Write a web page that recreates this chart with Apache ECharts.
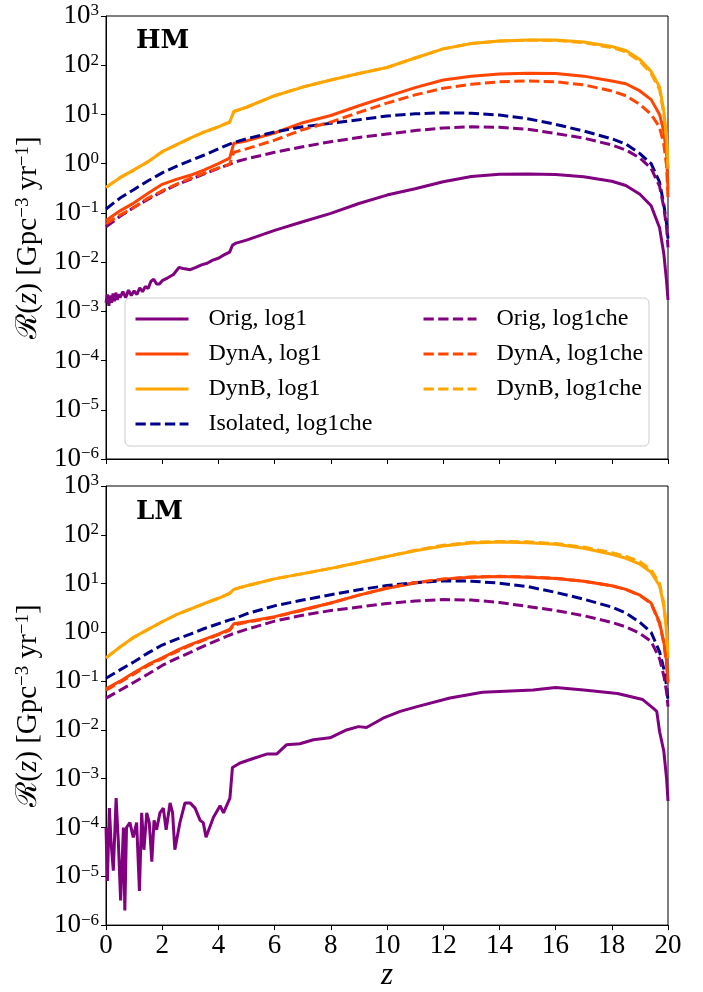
<!DOCTYPE html>
<html><head><meta charset="utf-8">
<script src="https://cdn.jsdelivr.net/npm/echarts@6/dist/echarts.min.js"></script>
<style>html,body{margin:0;padding:0;background:#fff}#c{width:703px;height:992px}</style>
</head><body><div id="c"></div><script>
// ---------- data ----------
const zGrid = [0,0.5,1,1.5,2,2.5,3,3.5,4,4.4,4.55,5,6,7,8,9,10,11,12,13,14,15,16,17,18,18.5,19,19.4,19.7,19.85,19.95,20];
const xTicks = [0,2,4,6,8,10,12,14,16,18,20];
const yTickExponents = [-6,-5,-4,-3,-2,-1,0,1,2,3];

// HM panel
const zOrigHM = [0,0.05,0.1,0.15,0.2,0.25,0.3,0.35,0.4,0.45,
  0.5,0.6,0.7,0.8,0.9,1.0,1.1,1.2,1.3,1.4,
  1.5,1.6,1.7,1.8,1.9,2.0,2.2,2.4,2.6,2.8,
  3.0,3.2,3.4,3.6,3.8,4.0,4.2,4.4,4.5,4.6,
  5,6,7,8,9,10,11,12,13,14,
  15,16,17,18,18.5,19,19.4,19.7,19.85,19.95,20];
const hmOrigLog1 = [0.0015,0.0022,0.0013,0.0021,0.0015,0.0023,0.0016,0.0024,0.0017,0.0022,
  0.0019,0.0025,0.0019,0.0027,0.0021,0.0026,0.0022,0.003,0.0025,0.0032,
  0.0029,0.0041,0.0045,0.0036,0.0036,0.0042,0.0048,0.0056,0.0078,0.0073,
  0.0070,0.0078,0.0088,0.0095,0.011,0.012,0.014,0.016,0.022,0.024,
  0.028,0.044,0.066,0.098,0.155,0.23,0.31,0.43,0.55,0.61,
  0.62,0.6,0.54,0.44,0.36,0.24,0.14,0.05,0.015,0.004,0.0017];
const hmDynALog1 = [0.07,0.11,0.16,0.25,0.38,0.48,0.58,0.75,1.0,1.3,2.6,2.9,4.2,6.8,9.5,15,23,35,50,60,66,69,68,60,48,42,30,20,10,4.5,1.5,0.3];
const hmDynBLog1 = [0.33,0.52,0.75,1.1,1.75,2.4,3.3,4.4,5.6,7.0,11.5,14,24,36,50,68,90,140,215,275,310,325,325,295,240,200,130,75,36,12,3.5,0.8];
const hmIsoChe   = [0.12,0.2,0.3,0.45,0.65,0.88,1.15,1.5,2.0,2.5,2.7,3.2,4.4,5.6,6.6,7.8,9.3,10.3,10.8,10.6,9.7,8.2,6.3,4.6,3.2,2.5,1.6,1.0,0.42,0.15,0.06,0.03];
const hmOrigChe  = [0.052,0.085,0.13,0.19,0.27,0.37,0.48,0.62,0.8,0.97,1.07,1.25,1.7,2.2,2.8,3.4,4.0,4.7,5.3,5.6,5.5,5.0,4.1,3.3,2.4,1.9,1.3,0.8,0.35,0.13,0.05,0.02];
const hmDynAChe  = [0.06,0.09,0.13,0.2,0.28,0.38,0.5,0.64,0.82,0.97,1.7,2.0,3.0,4.9,7,11,17,25,34,41,46,48,46,40,30,24,16,10,5.5,2.5,0.9,0.2];
const hmDynBChe  = [0.33,0.52,0.75,1.1,1.75,2.4,3.3,4.4,5.6,7.0,11.5,14,24,36,50,68,90,140,215,275,310,322,318,288,228,188,120,68,32,10,3,0.7];

// LM panel
const zOrigLM = [0,0.05,0.12,0.18,0.26,0.36,0.44,0.52,0.62,0.67,
  0.73,0.85,0.97,1.09,1.19,1.27,1.35,1.45,1.54,1.63,
  1.71,1.80,1.92,2.04,2.14,2.28,2.37,2.45,2.63,2.81,
  2.99,3.17,3.35,3.46,3.56,3.82,4.06,4.18,4.41,4.5,
  4.77,5.24,5.72,6.07,6.43,6.9,7.38,7.97,8.56,8.98,
  9.27,9.86,10.47,11.07,12.24,13.4,15.2,16,17,18.2,
  19.1,19.47,19.6,19.7,19.85,19.95,20];
const lmOrigLog1 = [1e-4,8e-6,2.5e-4,5e-5,1.3e-5,4e-4,5e-5,3.2e-6,1e-4,2e-6,
  1e-4,1.26e-4,6.3e-5,1.26e-4,5e-6,2e-4,3.5e-5,2e-4,1.26e-4,2e-5,
  1.4e-4,9e-5,2e-4,2.5e-4,9e-5,3.2e-4,2e-4,3.5e-5,1.26e-4,3.2e-4,
  3.2e-4,2.5e-4,1.4e-4,1.26e-4,6.3e-5,1.6e-4,2.8e-4,2e-4,4e-4,1.7e-3,
  2.1e-3,2.6e-3,3.2e-3,3.2e-3,5e-3,5.2e-3,6.3e-3,6.9e-3,0.01,0.0117,
  0.0112,0.0174,0.024,0.030,0.045,0.059,0.066,0.074,0.066,0.056,
  0.042,0.028,0.024,0.0093,0.0037,0.001,0.00035];
const lmDynALog1 = [0.07,0.1,0.15,0.22,0.3,0.42,0.56,0.72,0.92,1.15,1.5,1.65,2.1,2.9,4.0,5.8,8.0,10.3,12.2,13.5,13.9,13.5,12.7,11.2,9.0,7.6,5.8,4.0,1.6,0.64,0.25,0.1];
const lmDynBLog1 = [0.3,0.5,0.8,1.15,1.65,2.3,3.0,3.9,5.0,6.3,7.6,9,12.5,16,20.5,27,36,47,59,68,71,69,64,53,40,33,25,17,9,3.5,1.0,0.3];
const lmIsoChe   = [0.115,0.17,0.25,0.38,0.55,0.72,0.92,1.2,1.5,1.8,1.9,2.4,3.5,4.6,5.9,7.5,9.1,10.4,11.4,11.2,10.2,8.7,6.6,4.8,3.3,2.5,1.6,1.0,0.4,0.18,0.08,0.04];
const lmOrigChe  = [0.045,0.065,0.095,0.14,0.21,0.29,0.39,0.53,0.7,0.88,0.95,1.15,1.7,2.25,2.8,3.3,3.9,4.4,4.7,4.6,4.1,3.4,2.8,2.2,1.6,1.3,0.95,0.65,0.29,0.13,0.06,0.03];
const lmDynAChe  = [0.065,0.095,0.14,0.21,0.29,0.4,0.54,0.7,0.9,1.1,1.4,1.6,2.05,2.85,4.0,5.8,8.1,10.5,12.4,13.7,14.1,13.7,12.8,11.2,9.0,7.6,5.7,3.9,1.5,0.6,0.22,0.09];
const lmDynBChe  = [0.3,0.5,0.8,1.15,1.65,2.3,3.0,3.9,5.0,6.3,7.6,9,12.5,16,20.5,27,36,48,61,70,73,72,66,56,43,36,28,19,10,4,1.2,0.35];

const seriesNames = ['Orig, log1','DynA, log1','DynB, log1','Isolated, log1che','Orig, log1che','DynA, log1che','DynB, log1che'];
const seriesColors = ['#800080','#FF4500','#FFA500','#00008B','#800080','#FF4500','#FFA500'];
const seriesDashed = [false,false,false,true,true,true,true];
const panelLabels = ['HM','LM'];

// ---------- build ----------
const SERIF = '"Liberation Serif", "DejaVu Serif", serif';
const zip = (xs, ys) => xs.map((x, i) => [x, ys[i]]);
const panels = [
  [zip(zOrigHM, hmOrigLog1), zip(zGrid, hmDynALog1), zip(zGrid, hmDynBLog1), zip(zGrid, hmIsoChe), zip(zGrid, hmOrigChe), zip(zGrid, hmDynAChe), zip(zGrid, hmDynBChe)],
  [zip(zOrigLM, lmOrigLog1), zip(zGrid, lmDynALog1), zip(zGrid, lmDynBLog1), zip(zGrid, lmIsoChe), zip(zGrid, lmOrigChe), zip(zGrid, lmDynAChe), zip(zGrid, lmDynBChe)]
];

const series = [];
panels.forEach((pd, gi) => {
  pd.forEach((data, si) => {
    series.push({
      type: 'line', name: seriesNames[si], xAxisIndex: gi, yAxisIndex: gi,
      data: data, showSymbol: false, symbol: 'none', clip: true, z: 2,
      lineStyle: { color: seriesColors[si], width: 3, type: seriesDashed[si] ? [10.3, 4.4] : 'solid', cap: 'butt' },
      itemStyle: { color: seriesColors[si] }
    });
  });
});

const supText = e => (e < 0 ? '\u2212' + (-e) : '' + e);
const yLabelFmt = v => {
  const e = Math.round(Math.log10(v));
  return yTickExponents.indexOf(e) >= 0 ? '{b|10}{s|' + supText(e) + '}' : '';
};

const gridTops = [16, 486];
const grids = gridTops.map(t => ({ left: 106, top: t, width: 562, height: 443, show: true, borderColor: '#000', borderWidth: 1, backgroundColor: 'transparent' }));

const xAxes = gridTops.map((t, gi) => ({
  type: 'value', gridIndex: gi, min: xTicks[0], max: xTicks[xTicks.length - 1], interval: xTicks[1] - xTicks[0],
  axisLine: { show: true, onZero: false, lineStyle: { color: '#000', width: 1 } },
  axisTick: { show: true, inside: false, length: 5, lineStyle: { color: '#000', width: 1 } },
  axisLabel: { show: gi === 1, margin: 7, color: '#000', fontSize: 27, fontFamily: SERIF },
  splitLine: { show: false },
  name: gi === 1 ? 'z' : '', nameLocation: 'middle', nameGap: 30,
  nameTextStyle: { fontSize: 31, fontStyle: 'italic', fontFamily: SERIF, color: '#000' }
}));

const yAxes = gridTops.map((t, gi) => ({
  type: 'log', logBase: 10, gridIndex: gi, min: Math.pow(10, yTickExponents[0]), max: Math.pow(10, yTickExponents[yTickExponents.length - 1]), interval: 1,
  axisLine: { show: true, lineStyle: { color: '#000', width: 1 } },
  axisTick: { show: true, inside: false, length: 5, lineStyle: { color: '#000', width: 1 } },
  axisLabel: {
    formatter: yLabelFmt, margin: 7, color: '#000',
    rich: {
      b: { fontSize: 27, fontFamily: SERIF, color: '#000' },
      s: { fontSize: 17, fontFamily: SERIF, color: '#000', verticalAlign: 'top' }
    }
  },
  splitLine: { show: false }, minorTick: { show: false },
  name: '{r|\u211B}{t|(}{i|z}{t|) [Gpc}{s|\u22123}{t| yr}{s|\u22121}{t|]}',
  nameLocation: 'middle', nameRotate: 90, nameGap: 60,
  nameTextStyle: {
    color: '#000',
    rich: {
      r: { fontSize: 29, fontFamily: '"DejaVu Serif", serif', color: '#000' },
      t: { fontSize: 29, fontFamily: SERIF, color: '#000' },
      i: { fontSize: 29, fontFamily: SERIF, fontStyle: 'italic', color: '#000' },
      s: { fontSize: 19, fontFamily: SERIF, color: '#000', verticalAlign: 'top' }
    }
  }
}));

const legendCommon = {
  orient: 'vertical', top: 307, itemWidth: 53, itemHeight: 14, itemGap: 11,
  padding: 0, selectedMode: false, z: 5,
  itemStyle: { opacity: 0, borderWidth: 0 },
  lineStyle: { width: 3 },
  textStyle: { fontSize: 24, fontFamily: SERIF, color: '#000', padding: [0, 0, 0, 15] }
};

const option = {
  animation: false,
  backgroundColor: '#fff',
  grid: grids, xAxis: xAxes, yAxis: yAxes, series: series,
  legend: [
    Object.assign({}, legendCommon, { left: 134, data: seriesNames.slice(0, 4) }),
    Object.assign({}, legendCommon, { left: 422, data: seriesNames.slice(4) })
  ],
  graphic: [
    { type: 'rect', z: 3, shape: { x: 125, y: 298, width: 524, height: 148, r: 5 }, style: { fill: 'rgba(255,255,255,0.8)', stroke: '#cccccc', lineWidth: 1 } },
    { type: 'text', z: 6, style: { text: panelLabels[0], x: 136, y: 41, verticalAlign: 'middle', fontSize: 26, fontWeight: 'bold', fontFamily: '"DejaVu Serif", serif', fill: '#000' } },
    { type: 'text', z: 6, style: { text: panelLabels[1], x: 136, y: 512, verticalAlign: 'middle', fontSize: 26, fontWeight: 'bold', fontFamily: '"DejaVu Serif", serif', fill: '#000' } }
  ]
};

const chart = echarts.init(document.getElementById('c'), null, { renderer: 'canvas' });
chart.setOption(option);
</script></body></html>
